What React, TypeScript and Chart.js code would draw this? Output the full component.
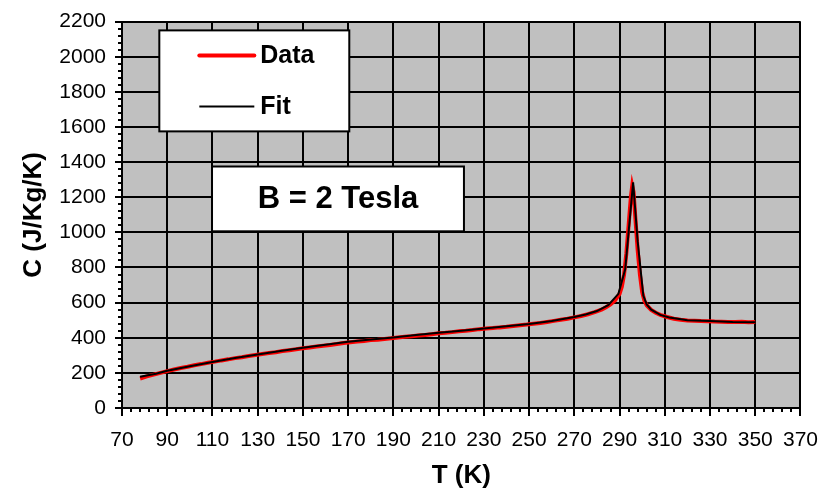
import React, { useEffect, useRef } from "react";
import { Chart, registerables } from "chart.js";

Chart.register(...registerables);

const dataT = [78,81,84,87,90,93,96,99,102,105,108,111,114,117,120,123,126,129,132,135,138,141,144,147,150,153,156,159,162,165,168,171,174,177,180,183,186,189,192,195,198,201,204,207,210,213,216,219,222,225,228,231,234,237,240,243,246,249,252,255,258,261,264,267,270,273,276,279,282,284,286,288,290,291,292,293,294,295,295.6,296.2,297,298,299,300,301,302,304,306,308,311,314,317,320,323,326,329,332,335,338,341,344,347,350];
const dataC = [168,180,190,200,210,219,228,235,243,250,258,264,271,277,284,289,296,302,308,313,318,324,329,334,340,345,350,355,359,364,370,374,378,382,387,389,393,397,402,405,408,413,416,420,425,428,432,437,440,444,449,452,455,459,462,467,471,475,480,484,490,496,502,508,516,524,534,546,560,574,590,612,650,690,760,880,1040,1200,1265,1230,1080,900,760,660,610,585,558,542,530,518,508,502,498,497,495,494,492,491,490,489,491,488,489];

const fitT = [78,85,90,100,110,120,130,140,150,160,170,180,190,200,210,220,230,240,250,260,270,275,280,285,289.5,292.5,294,296,298,300.5,302,304,308,312,320,330,340,350];
const fitC = [178,195,212,238,262,285,305,325,343,360,377,390,402,415,428,440,453,465,478,495,518,532,552,585,650,790,1000,1285,950,640,590,560,530,515,500,495,490,488];

const xTicks = [70,90,110,130,150,170,190,210,230,250,270,290,310,330,350,370];
const yTicks = [0,200,400,600,800,1000,1200,1400,1600,1800,2000,2200];
const legendLabels = ["Data", "Fit"];
const annotationText = "B = 2 Tesla";
const xTitle = "T (K)";
const yTitle = "C (J/Kg/K)";

const FONT = "'Liberation Sans', Arial, sans-serif";

export default function App() {
  const ref = useRef<HTMLCanvasElement | null>(null);
  useEffect(() => {
    const canvas = ref.current;
    if (!canvas) return;
    const bgPlugin = {
      id: "plotbg",
      beforeDraw(chart: any) {
        const { ctx, chartArea: a } = chart;
        ctx.save();
        ctx.fillStyle = "#ffffff";
        ctx.fillRect(0, 0, chart.width, chart.height);
        ctx.fillStyle = "#C0C0C0";
        ctx.fillRect(a.left, a.top, a.right - a.left, a.bottom - a.top);
        ctx.restore();
      },
    };
    const decoPlugin = {
      id: "deco",
      afterDraw(chart: any) {
        const { ctx, chartArea: a, scales } = chart;
        const xs = scales.x, ys = scales.y;
        ctx.save();
        // minor ticks
        ctx.strokeStyle = "#000";
        ctx.lineWidth = 2;
        ctx.beginPath();
        for (let v = 0; v <= 2200; v += 40) {
          const y = Math.round(ys.getPixelForValue(v));
          ctx.moveTo(a.left - 4, y);
          ctx.lineTo(a.left, y);
        }
        for (let v = 70; v <= 370; v += 4) {
          const x = Math.round(xs.getPixelForValue(v));
          ctx.moveTo(x, a.bottom);
          ctx.lineTo(x, a.bottom + 4);
        }
        ctx.stroke();
        // legend box
        const lx0 = xs.getPixelForValue(86.5), lx1 = xs.getPixelForValue(170.5);
        const ly0 = ys.getPixelForValue(2150), ly1 = ys.getPixelForValue(1575);
        ctx.fillStyle = "#fff";
        ctx.fillRect(lx0, ly0, lx1 - lx0, ly1 - ly0);
        ctx.lineWidth = 2;
        ctx.strokeStyle = "#000";
        ctx.strokeRect(lx0, ly0, lx1 - lx0, ly1 - ly0);
        ctx.font = `bold 25px ${FONT}`;
        ctx.textBaseline = "middle";
        ctx.textAlign = "left";
        ctx.fillStyle = "#000";
        // Data
        ctx.strokeStyle = "#FF0000";
        ctx.lineWidth = 4;
        ctx.lineCap = "round";
        ctx.beginPath();
        ctx.moveTo(lx0 + 40, ly0 + 25);
        ctx.lineTo(lx0 + 95, ly0 + 25);
        ctx.stroke();
        ctx.fillText(legendLabels[0], lx0 + 101, ly0 + 26);
        ctx.strokeStyle = "#000";
        ctx.lineWidth = 2;
        ctx.lineCap = "butt";
        ctx.beginPath();
        ctx.moveTo(lx0 + 40, ly0 + 76);
        ctx.lineTo(lx0 + 95, ly0 + 76);
        ctx.stroke();
        ctx.fillText(legendLabels[1], lx0 + 101, ly0 + 77);
        // annotation box
        const bx0 = xs.getPixelForValue(109.8), bx1 = xs.getPixelForValue(221.2);
        const by0 = ys.getPixelForValue(1375), by1 = ys.getPixelForValue(1006);
        ctx.fillStyle = "#fff";
        ctx.fillRect(bx0, by0, bx1 - bx0, by1 - by0);
        ctx.strokeStyle = "#000";
        ctx.lineWidth = 2;
        ctx.strokeRect(bx0, by0, bx1 - bx0, by1 - by0);
        ctx.fillStyle = "#000";
        ctx.font = `bold 31px ${FONT}`;
        ctx.textAlign = "center";
        ctx.fillText(annotationText, (bx0 + bx1) / 2, (by0 + by1) / 2 + 1);
        ctx.restore();
      },
    };
    const chart = new Chart(canvas, {
      type: "line",
      data: {
        datasets: [
          {
            label: legendLabels[0],
            data: dataT.map((t, i) => ({ x: t, y: dataC[i] })),
            borderColor: "#FF0000",
            borderWidth: 4,
            pointRadius: 0,
            tension: 0,
            order: 1,
          },
          {
            label: legendLabels[1],
            data: fitT.map((t, i) => ({ x: t, y: fitC[i] })),
            borderColor: "#000000",
            borderWidth: 2,
            pointRadius: 0,
            tension: 0,
            order: 0,
          },
        ],
      },
      options: {
        responsive: false,
        animation: false,
        layout: { padding: { left: 0, right: 27, top: 20, bottom: 0 } },
        plugins: { legend: { display: false }, tooltip: { enabled: false } },
        scales: {
          x: {
            type: "linear",
            min: 70,
            max: 370,
            afterBuildTicks: (s: any) => { s.ticks = xTicks.map((v) => ({ value: v })); },
            afterFit: (s: any) => { s.height = 83; },
            grid: { color: "#000", lineWidth: 2, tickLength: 8, drawTicks: true },
            border: { color: "#000", width: 2 },
            ticks: { color: "#000", font: { family: FONT, size: 21 }, padding: 12, maxRotation: 0, autoSkip: false, callback: (v: any) => String(v) },
            title: { display: true, text: xTitle, color: "#000", font: { family: FONT, size: 26, weight: "bold" }, padding: { top: 0, bottom: 0 } },
          },
          y: {
            type: "linear",
            min: 0,
            max: 2200,
            afterBuildTicks: (s: any) => { s.ticks = yTicks.map((v) => ({ value: v })); },
            afterFit: (s: any) => { s.width = 122; },
            grid: { color: "#000", lineWidth: 2, tickLength: 7, drawTicks: true },
            border: { color: "#000", width: 2 },
            ticks: { color: "#000", font: { family: FONT, size: 21 }, padding: 9, autoSkip: false, callback: (v: any) => String(v) },
            title: { display: true, text: yTitle, color: "#000", font: { family: FONT, size: 26, weight: "bold" }, padding: { top: 18, bottom: 0 } },
          },
        },
      },
      plugins: [bgPlugin, decoPlugin],
    } as any);
    return () => chart.destroy();
  }, []);
  return (
    <div style={{ position: "absolute", left: 0, top: 0, width: 830, height: 491 }}>
      <canvas ref={ref} width={830} height={491} style={{ width: 830, height: 491, display: "block" }} />
    </div>
  );
}
